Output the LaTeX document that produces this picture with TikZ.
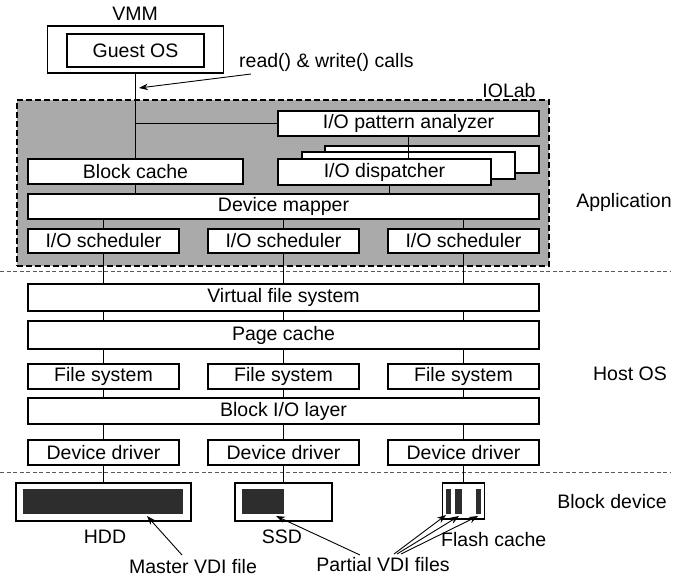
\documentclass[tikz,border=0pt]{standalone}
\usepackage{fontspec}
\setmainfont{Liberation Sans}
\usetikzlibrary{arrows.meta}
\definecolor{iogray}{RGB}{170,170,170}
\definecolor{blk}{RGB}{45,45,45}
\begin{document}
\begin{tikzpicture}[x=1pt,y=-1pt,
  every node/.style={font=\fontsize{19.5}{22}\selectfont, inner sep=0pt},
  box/.style={draw, fill=white, line width=1.2pt, rectangle},
  lbl/.style={},
  conn/.style={line width=1pt},
  arr/.style={line width=0.9pt, -{Stealth[length=9pt,width=6.5pt]}},
  sep/.style={line width=0.8pt, gray!70!black, dash pattern=on 4pt off 2.5pt},
  iolabbox/.style={draw, fill=iogray, line width=2.2pt, dash pattern=on 6pt off 3pt, rectangle},
  fillblk/.style={fill=blk, draw=none, rectangle}
]
\useasboundingbox (0,0) rectangle (683,579);

% VMM
\node[lbl] (vmmlbl) at (135,14) {VMM};
\node[box, minimum width=176pt, minimum height=47pt] (vmm) at (135.5,49.5) {};
\node[box, minimum width=137pt, minimum height=33pt] (guest) at (135.5,50.5) {Guest OS};

% IOLab
\node[iolabbox, minimum width=532pt, minimum height=166pt] (iolab) at (283,183) {};
\node[lbl] (iolablbl) at (509,91) {IOLab};

\node[box, minimum width=261pt, minimum height=25pt] (pattern) at (408.5,123.5) {I/O pattern analyzer};
\node[box, minimum width=214pt, minimum height=27pt] (disp3) at (432,159.5) {};
\node[box, minimum width=213pt, minimum height=27pt] (disp2) at (408.5,165.5) {};
\node[box, minimum width=213pt, minimum height=26pt] (disp1) at (384.5,172) {I/O dispatcher};
\node[box, minimum width=215pt, minimum height=25pt] (bcache) at (135.5,171.5) {Block cache};
\node[box, minimum width=511pt, minimum height=25pt] (mapper) at (283.5,206.5) {Device mapper};
\node[box, minimum width=151pt, minimum height=24pt] (s1) at (103.5,241) {I/O scheduler};
\node[box, minimum width=151pt, minimum height=24pt] (s2) at (283.5,241) {I/O scheduler};
\node[box, minimum width=151pt, minimum height=24pt] (s3) at (463.5,241) {I/O scheduler};

% Host OS
\node[box, minimum width=511pt, minimum height=27pt] (vfs) at (283.5,297.5) {Virtual file system};
\node[box, minimum width=511pt, minimum height=28pt] (page) at (283.5,335) {Page cache};
\node[box, minimum width=151pt, minimum height=25pt] (f1) at (103.5,376.5) {File system};
\node[box, minimum width=151pt, minimum height=25pt] (f2) at (283.5,376.5) {File system};
\node[box, minimum width=151pt, minimum height=25pt] (f3) at (463.5,376.5) {File system};
\node[box, minimum width=511pt, minimum height=26pt] (bio) at (283.5,411) {Block I/O layer};
\node[box, minimum width=151pt, minimum height=25pt] (d1) at (103.5,452.5) {Device driver};
\node[box, minimum width=151pt, minimum height=25pt] (d2) at (283.5,452.5) {Device driver};
\node[box, minimum width=151pt, minimum height=25pt] (d3) at (463.5,452.5) {Device driver};

% Block devices
\node[box, minimum width=175pt, minimum height=38pt] (hdd) at (103.5,502) {};
\node[fillblk, minimum width=160pt, minimum height=25pt] (hddin) at (103,501.5) {};
\node[box, minimum width=97pt, minimum height=38pt] (ssd) at (283.5,502) {};
\node[fillblk, minimum width=42pt, minimum height=25pt] (ssdin) at (263,501.5) {};
\node[box, minimum width=42pt, minimum height=36pt] (flash) at (463.5,501) {};
\node[fillblk, minimum width=5pt, minimum height=25pt] (b1) at (448.5,501) {};
\node[fillblk, minimum width=7pt, minimum height=25pt] (b2) at (458.5,501) {};
\node[fillblk, minimum width=5pt, minimum height=25pt] (b3) at (478.5,501) {};

% separators
\coordinate (sepAl) at (0,271); \coordinate (sepAr) at (670,271);
\coordinate (sepBl) at (0,472); \coordinate (sepBr) at (670,472);
\draw[sep] (sepAl) -- (sepAr);
\draw[sep] (sepBl) -- (sepBr);

% layer labels
\node[lbl] (app) at (624,202) {Application};
\node[lbl] (host) at (630,374) {Host OS};
\node[lbl] (bdev) at (612,502) {Block device};

% connectors
\draw[conn] (vmm.south) -- (bcache.north);
\draw[conn] (pattern.west) -- (pattern.west -| vmm.south);
\draw[conn] (pattern.south) -- (pattern.south |- disp1.north);
\draw[conn] (bcache.south) -- (bcache.south |- mapper.north);
\draw[conn] ([xshift=4.5pt]disp1.south) -- ([xshift=4.5pt]disp1.south |- mapper.north);
\foreach \s/\f/\d/\b in {s1/f1/d1/hdd, s2/f2/d2/ssd, s3/f3/d3/flash} {
  \draw[conn] (\s.north |- mapper.south) -- (\s.north);
  \draw[conn] (\s.south) -- (\s.south |- vfs.north);
  \draw[conn] (\s.south |- vfs.south) -- (\s.south |- page.north);
  \draw[conn] (\f.north |- page.south) -- (\f.north);
  \draw[conn] (\f.south) -- (\f.south |- bio.north);
  \draw[conn] (\d.north |- bio.south) -- (\d.north);
  \draw[conn] (\d.south) -- (\d.south |- \b.north);
}

% call label and arrow
\node[lbl, anchor=west] (calls) at (239,62) {read() \& write() calls};
\coordinate (callsTail) at (251,74);
\coordinate (callsTip) at (139,88);
\draw[arr] (callsTail) -- (callsTip);

% bottom labels
\node[lbl] (hddlbl) at (105,537) {HDD};
\node[lbl] (ssdlbl) at (282,537) {SSD};
\node[lbl, anchor=west] (flashlbl) at (441,540) {Flash cache};
\node[lbl] (master) at (193,567) {Master VDI file};
\node[lbl] (partial) at (383,565) {Partial VDI files};

\coordinate (mTail) at (182,555);
\coordinate (mTip) at (147,516);
\draw[arr] (mTail) -- (mTip);
\coordinate (pTail) at (360,555);
\coordinate (pTip) at (276,516);
\draw[arr] (pTail) -- (pTip);
\coordinate (fT1) at (394,554);
\coordinate (fT2) at (397,554);
\coordinate (fT3) at (401,554);
\coordinate (fH1) at (446,515);
\coordinate (fH2) at (459,516);
\coordinate (fH3) at (478,516);
\draw[arr] (fT1) -- (fH1);
\draw[arr] (fT2) -- (fH2);
\draw[arr] (fT3) -- (fH3);
\end{tikzpicture}
\end{document}
